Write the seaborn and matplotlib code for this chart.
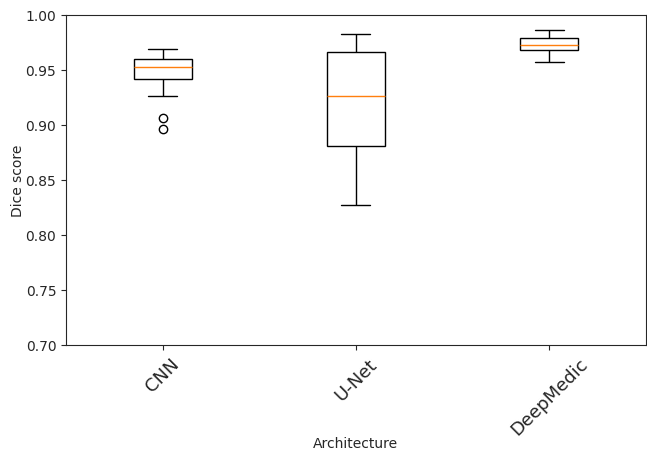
import pandas as pd
import matplotlib
matplotlib.use('Agg')
import matplotlib.pyplot as plt
import seaborn as sns

# Dice scores per architecture
architectures = ['CNN', 'U-Net', 'DeepMedic']
cnn_scores = [0.896, 0.906, 0.926, 0.942, 0.945, 0.950, 0.953,
              0.955, 0.958, 0.960, 0.963, 0.966, 0.969]
unet_scores = [0.827, 0.860, 0.881, 0.905, 0.926, 0.945, 0.966, 0.975, 0.983]
deepmedic_scores = [0.957, 0.965, 0.968, 0.971, 0.973, 0.976, 0.979, 0.983, 0.986]
y_ticks = [0.70, 0.75, 0.80, 0.85, 0.90, 0.95, 1.00]

df = pd.concat([
    pd.DataFrame({'Architecture': 'CNN', 'Dice score': cnn_scores}),
    pd.DataFrame({'Architecture': 'U-Net', 'Dice score': unet_scores}),
    pd.DataFrame({'Architecture': 'DeepMedic', 'Dice score': deepmedic_scores}),
])

sns.set_style("ticks")

fig, ax = plt.subplots(figsize=(6.47, 4.52), dpi=100)
sns.boxplot(data=df, x='Architecture', y='Dice score', order=architectures,
            width=0.3, color='white', linecolor='black', linewidth=1,
            medianprops={'color': '#ff7f0e', 'linewidth': 1},
            flierprops={'marker': 'o', 'markerfacecolor': 'none',
                        'markeredgecolor': 'black', 'markersize': 6},
            ax=ax)

ax.set_ylim(0.70, 1.00)
ax.set_yticks(y_ticks)
ax.set_yticklabels([f'{t:.2f}' for t in y_ticks], fontsize=10)
ax.set_xlim(-0.5, 2.5)
plt.xticks(rotation=45, fontsize=13)
ax.set_xlabel('Architecture', fontsize=10)
ax.set_ylabel('Dice score', fontsize=10)
ax.xaxis.set_label_coords(0.5, -0.275)
ax.yaxis.set_label_coords(-0.07, 0.5)
for side in ['top', 'right']:
    ax.spines[side].set_visible(True)

plt.subplots_adjust(left=0.102, right=0.998, top=0.965, bottom=0.235)
plt.savefig('out.png', dpi=100)
plt.close()
